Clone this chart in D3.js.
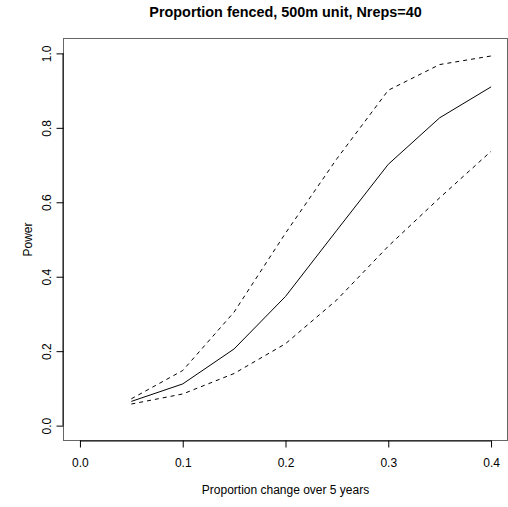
<!DOCTYPE html>
<html>
<head>
<meta charset="utf-8">
<script src="https://cdn.jsdelivr.net/npm/d3@7"></script>
<style>
  body { margin: 0; background: #fff; }
  text { font-family: "Liberation Sans", Arial, sans-serif; fill: #000; }
</style>
</head>
<body>
<svg id="chart" width="508" height="507"></svg>
<script>
// proportion change over 5 years
const changes = [0.05, 0.1, 0.15, 0.2, 0.25, 0.3, 0.35, 0.4];
// estimated power and its bounds
const power = [0.065, 0.112, 0.206, 0.347, 0.525, 0.702, 0.827, 0.910];
const upper = [0.072, 0.148, 0.305, 0.517, 0.717, 0.901, 0.970, 0.993];
const lower = [0.058, 0.085, 0.140, 0.220, 0.338, 0.482, 0.612, 0.737];
const xTicks = [0, 0.1, 0.2, 0.3, 0.4];
const yTicks = [0, 0.2, 0.4, 0.6, 0.8, 1.0];

const svg = d3.select("#chart");
const box = { left: 63.5, right: 507.5, top: 38.5, bottom: 440.5 };

// R-style 4% padding on each side of the data range
const x = d3.scaleLinear()
    .domain([0 - 0.4 * 0.04, 0.4 + 0.4 * 0.04])
    .range([box.left, box.right]);
const y = d3.scaleLinear()
    .domain([0 - 0.04, 1 + 0.04])
    .range([box.bottom, box.top]);

// plot frame
svg.append("rect")
    .attr("x", box.left).attr("y", box.top)
    .attr("width", box.right - box.left)
    .attr("height", box.bottom - box.top)
    .attr("fill", "none")
    .attr("stroke", "#666")
    .attr("stroke-width", 1);

// x axis
const xAxis = svg.append("g")
    .attr("transform", "translate(0," + box.bottom + ")")
    .call(d3.axisBottom(x).tickValues(xTicks).tickFormat(d3.format(".1f"))
        .tickSize(7).tickSizeOuter(0).tickPadding(11));
xAxis.select(".domain")
    .attr("d", "M" + x(xTicks[0]) + ",0.5H" + x(xTicks[xTicks.length - 1]))
    .attr("stroke", "#000");
xAxis.selectAll("text").style("font-size", "12px").attr("font-family", null);

// y axis with rotated labels
const yAxis = svg.append("g")
    .attr("transform", "translate(" + box.left + ",0)")
    .call(d3.axisLeft(y).tickValues(yTicks).tickFormat(d3.format(".1f"))
        .tickSize(7).tickSizeOuter(0));
yAxis.select(".domain")
    .attr("d", "M-0.5," + y(yTicks[0]) + "V" + y(yTicks[yTicks.length - 1]))
    .attr("stroke", "#000");
yAxis.selectAll(".tick text")
    .attr("x", null).attr("dy", null)
    .attr("transform", "translate(-13,0) rotate(-90)")
    .attr("text-anchor", "middle")
    .attr("font-family", null)
    .style("font-size", "12px");

// curves
const line = vals => d3.line()
    .x((d, i) => x(changes[i]))
    .y(d => y(d))(vals);

[
  { vals: upper, dash: "4,4" },
  { vals: power, dash: null },
  { vals: lower, dash: "4,4" }
].forEach(s => {
  svg.append("path")
      .attr("d", line(s.vals))
      .attr("fill", "none")
      .attr("stroke", "#000")
      .attr("stroke-width", 1)
      .attr("stroke-dasharray", s.dash);
});

// titles
svg.append("text")
    .attr("x", (box.left + box.right) / 2).attr("y", 17)
    .attr("text-anchor", "middle")
    .style("font-size", "14.4px").style("font-weight", "bold")
    .text("Proportion fenced, 500m unit, Nreps=40");

svg.append("text")
    .attr("x", (box.left + box.right) / 2).attr("y", 494)
    .attr("text-anchor", "middle")
    .style("font-size", "12px")
    .text("Proportion change over 5 years");

svg.append("text")
    .attr("transform", "translate(32," + (box.top + box.bottom) / 2 + ") rotate(-90)")
    .attr("text-anchor", "middle")
    .style("font-size", "12px")
    .text("Power");
</script>
</body>
</html>
